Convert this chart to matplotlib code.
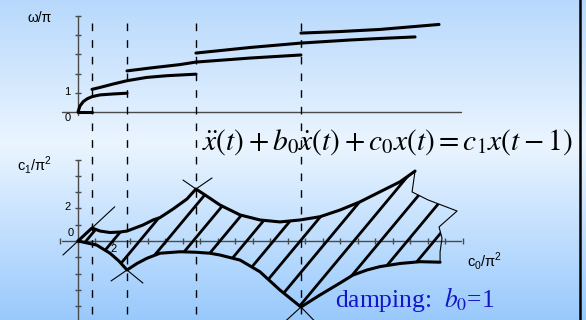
import numpy as np
import matplotlib
matplotlib.use("Agg")
import matplotlib.pyplot as plt
from matplotlib.patches import Polygon

plt.rcParams['font.family'] = 'Liberation Sans'
plt.rcParams['lines.scale_dashes'] = False
plt.rcParams['lines.solid_capstyle'] = 'round'

# c0/pi^2 values where the branches are born / meet
c0_cross = [0.8, 2.8, 6.74, 12.74]

# omega/pi of the roots on the boundary, versus c0/pi^2
c0_zero = [0.0, 0.8]
w_zero = [0.0, 0.0]
c0_br1 = [0.0, 0.11, 0.30, 0.53, 0.80, 1.26, 2.02, 2.80]
w_br1 = [0.0, 0.31, 0.54, 0.69, 0.80, 0.89, 0.94, 0.98]
c0_br2 = [0.80, 1.26, 2.02, 2.80, 3.92, 5.07, 6.74]
w_br2 = [1.18, 1.28, 1.46, 1.63, 1.80, 1.89, 1.97]
c0_br3 = [2.80, 4.11, 5.83, 6.74, 9.83, 12.74]
w_br3 = [2.14, 2.29, 2.47, 2.60, 2.81, 2.97]
c0_br4 = [6.74, 9.83, 12.74, 15.54, 17.26, 19.26]
w_br4 = [3.07, 3.36, 3.59, 3.75, 3.83, 3.91]
c0_br5 = [12.74, 14.97, 17.26, 20.63]
w_br5 = [4.11, 4.19, 4.30, 4.56]

# stability region in the (c0, c1) plane
c0_upper = [0, 0.80, 1.26, 1.83, 2.40, 2.80, 3.71, 4.29, 4.69, 5.43, 6.23, 6.74,
            7.43, 8.11, 9.26, 10.40, 11.54, 12.69, 13.83, 14.97, 16.11, 17.26, 18.40, 19.26]
c1_upper = [0, 0.80, 0.61, 0.52, 0.55, 0.61, 0.98, 1.29, 1.44, 1.96, 2.58, 3.19,
            2.70, 2.21, 1.60, 1.29, 1.17, 1.29, 1.49, 1.90, 2.40, 3.02, 3.63, 4.29]
c0_edge = [19.26, 19.09, 20.0, 21.66, 20.63, 20.80, 20.69, 20.69]
c1_edge = [4.29, 3.01, 2.52, 1.84, 0.86, 0.18, -0.67, -1.30]
c0_lower = [0, 1.07, 1.83, 2.34, 2.80, 3.37, 3.94, 4.69, 5.83, 6.74, 7.54, 8.11,
            9.26, 10.40, 11.54, 12.74, 13.83, 14.97, 15.71, 16.51, 17.26, 18.40, 19.54, 20.69]
c1_lower = [0, -0.25, -0.75, -1.23, -1.78, -1.38, -1.06, -0.75, -0.66, -0.69, -0.75, -0.86,
            -1.17, -1.89, -3.01, -4.05, -3.31, -2.58, -2.09, -1.78, -1.57, -1.38, -1.27, -1.30]

# lambda = 0 line (c1 = c0) and the tangent crossings at the cusps
c0_real = [-0.86, 2.1]
c1_real = [-0.86, 2.1]
cusp_arms = [
    ([1.89, 2.80, 3.71], [-2.45, -1.78, -2.58]),
    ([6.00, 6.74, 7.66], [3.74, 3.19, 3.87]),
    ([11.77, 12.74, 13.60], [-5.0, -4.05, -5.0]),
]

# pixel layout: x = 78 + 17.5*c0, top y = 112 - 19.2*w, bottom y = 241 - 16.3*c1
W, H = 586, 320
xlim = (-78 / 17.5, (W - 78) / 17.5)
ylim_top = ((112 - H) / 19.2, 112 / 19.2)
ylim_bot = ((241 - H) / 16.3, 241 / 16.3)

fig = plt.figure(figsize=(W / 100, H / 100), dpi=100)

# background gradient
bg = fig.add_axes([0, 0, 1, 1])
rows = np.linspace(0, 1, H)
stops = [0, 0.45, 1]
top_c = (0.72, 0.85, 0.99)
mid_c = (0.92, 0.96, 1.0)
bot_c = (0.60, 0.79, 0.99)
grad = np.stack([np.interp(rows, stops, [top_c[i], mid_c[i], bot_c[i]]) for i in range(3)], axis=-1)
bg.imshow(grad[:, None, :], aspect='auto', extent=[0, 1, 0, 1])
bg.set_xlim(0, 1)
bg.set_ylim(0, 1)
bg.axis('off')
bg.axvline(579.5 / W, color='black', lw=1.8)

ax_top = fig.add_axes([0, 0, 1, 1])
ax_bot = fig.add_axes([0, 0, 1, 1])
for ax, yl in ((ax_top, ylim_top), (ax_bot, ylim_bot)):
    ax.set_xlim(*xlim)
    ax.set_ylim(*yl)
    ax.axis('off')
    ax.patch.set_alpha(0)

axc = '#4a4a4a'
thick = 2.2
thin = 0.8

# top panel axes
ax_top.plot([-0.91, 21.9], [0, 0], color=axc, lw=1.0, zorder=2)
ax_top.plot([0, 0], [-0.16, 5], color=axc, lw=1.0, zorder=2)
ax_top.plot(np.zeros(5), np.arange(1, 6), ls='none', marker='_', ms=5, mew=1.0, color=axc)
ax_top.text(-2.91, 4.9, 'ω/π', fontsize=10, ha='left', va='center')
ax_top.text(-0.42, -0.32, '0', fontsize=8, ha='right', va='center')
ax_top.text(-0.45, 1.04, '1', fontsize=8, ha='right', va='center')

for cx, wy in ((c0_zero, w_zero), (c0_br1, w_br1), (c0_br2, w_br2),
               (c0_br3, w_br3), (c0_br4, w_br4), (c0_br5, w_br5)):
    ax_top.plot(cx, wy, color='black', lw=thick, zorder=4)

# dashed verticals through both panels
for c in c0_cross:
    ax_bot.plot([c, c], [(241 - 23) / 16.3, -5.2], color='black', lw=1.0,
                ls=(0, (5.5, 6.5)), zorder=3)

# bottom panel axes
ax_bot.plot([-0.91, 21.9], [0, 0], color=axc, lw=1.0, zorder=2)
ax_bot.plot([0, 0], [-5.2, 5], color=axc, lw=1.0, zorder=2)
ax_bot.plot(np.arange(-1, 23), np.zeros(24), ls='none', marker='|', ms=5, mew=1.0, color=axc, zorder=2)
ax_bot.plot(np.zeros(11), np.arange(-5, 6), ls='none', marker='_', ms=5, mew=1.0, color=axc, zorder=2)
ax_bot.text(-0.23, 0.49, '0', fontsize=8, ha='right', va='center')
ax_bot.text(-0.40, 2.06, '2', fontsize=8, ha='right', va='center')
ax_bot.text(2.06, -0.49, '2', fontsize=8, ha='center', va='center')
ax_bot.text(-3.49, 4.36, r'c$_\mathregular{1}$/π$^\mathregular{2}$', fontsize=10.5, ha='left', va='baseline')
ax_bot.text(22.23, -1.53, r'c$_\mathregular{0}$/π$^\mathregular{2}$', fontsize=10.5, ha='left', va='baseline')

# hatched region
outline = np.column_stack([
    np.concatenate([c0_upper, c0_edge[1:], c0_lower[::-1]]),
    np.concatenate([c1_upper, c1_edge[1:], c1_lower[::-1]]),
])
region = Polygon(outline, closed=True, fc='none', ec='none')
ax_bot.add_patch(region)
slope = 1.29
for a in np.arange(0.46, 22.0, 1.53):
    xs = np.array([a - 8, a + 8])
    hl, = ax_bot.plot(xs, slope * (xs - a), color='black', lw=2.0, zorder=4)
    hl.set_clip_path(region)

ax_bot.plot(c0_upper, c1_upper, color='black', lw=thick, zorder=5)
ax_bot.plot(c0_lower, c1_lower, color='black', lw=thick, zorder=5)
ax_bot.plot(c0_edge, c1_edge, color='black', lw=thin, zorder=5)
ax_bot.plot(c0_real, c1_real, color='black', lw=thin, zorder=5)
for ax_, ay_ in cusp_arms:
    ax_bot.plot(ax_, ay_, color='black', lw=thin, zorder=5)

eq = ax_bot.text(7.09, (241 - 150) / 16.3,
                 r'$\ddot{x}(t)+b_0\dot{x}(t)+c_0x(t)=c_1x(t-1)$',
                 fontsize=18, math_fontfamily='stix', ha='left', va='baseline', zorder=6)
damp = ax_bot.text((335 - 78) / 17.5, (241 - 306.5) / 16.3,
                   r'damping:  $b_0$=1', family='Liberation Serif', math_fontfamily='stix',
                   fontsize=17, color='#1515c8', ha='left', va='baseline', zorder=6)

# scale the two formula lines to their drawn widths
fig.canvas.draw()
r = fig.canvas.get_renderer()
for t, target in ((eq, 371), (damp, 160)):
    w = t.get_window_extent(r).width
    t.set_fontsize(t.get_fontsize() * target / w)

fig.savefig('out.png', dpi=100)
